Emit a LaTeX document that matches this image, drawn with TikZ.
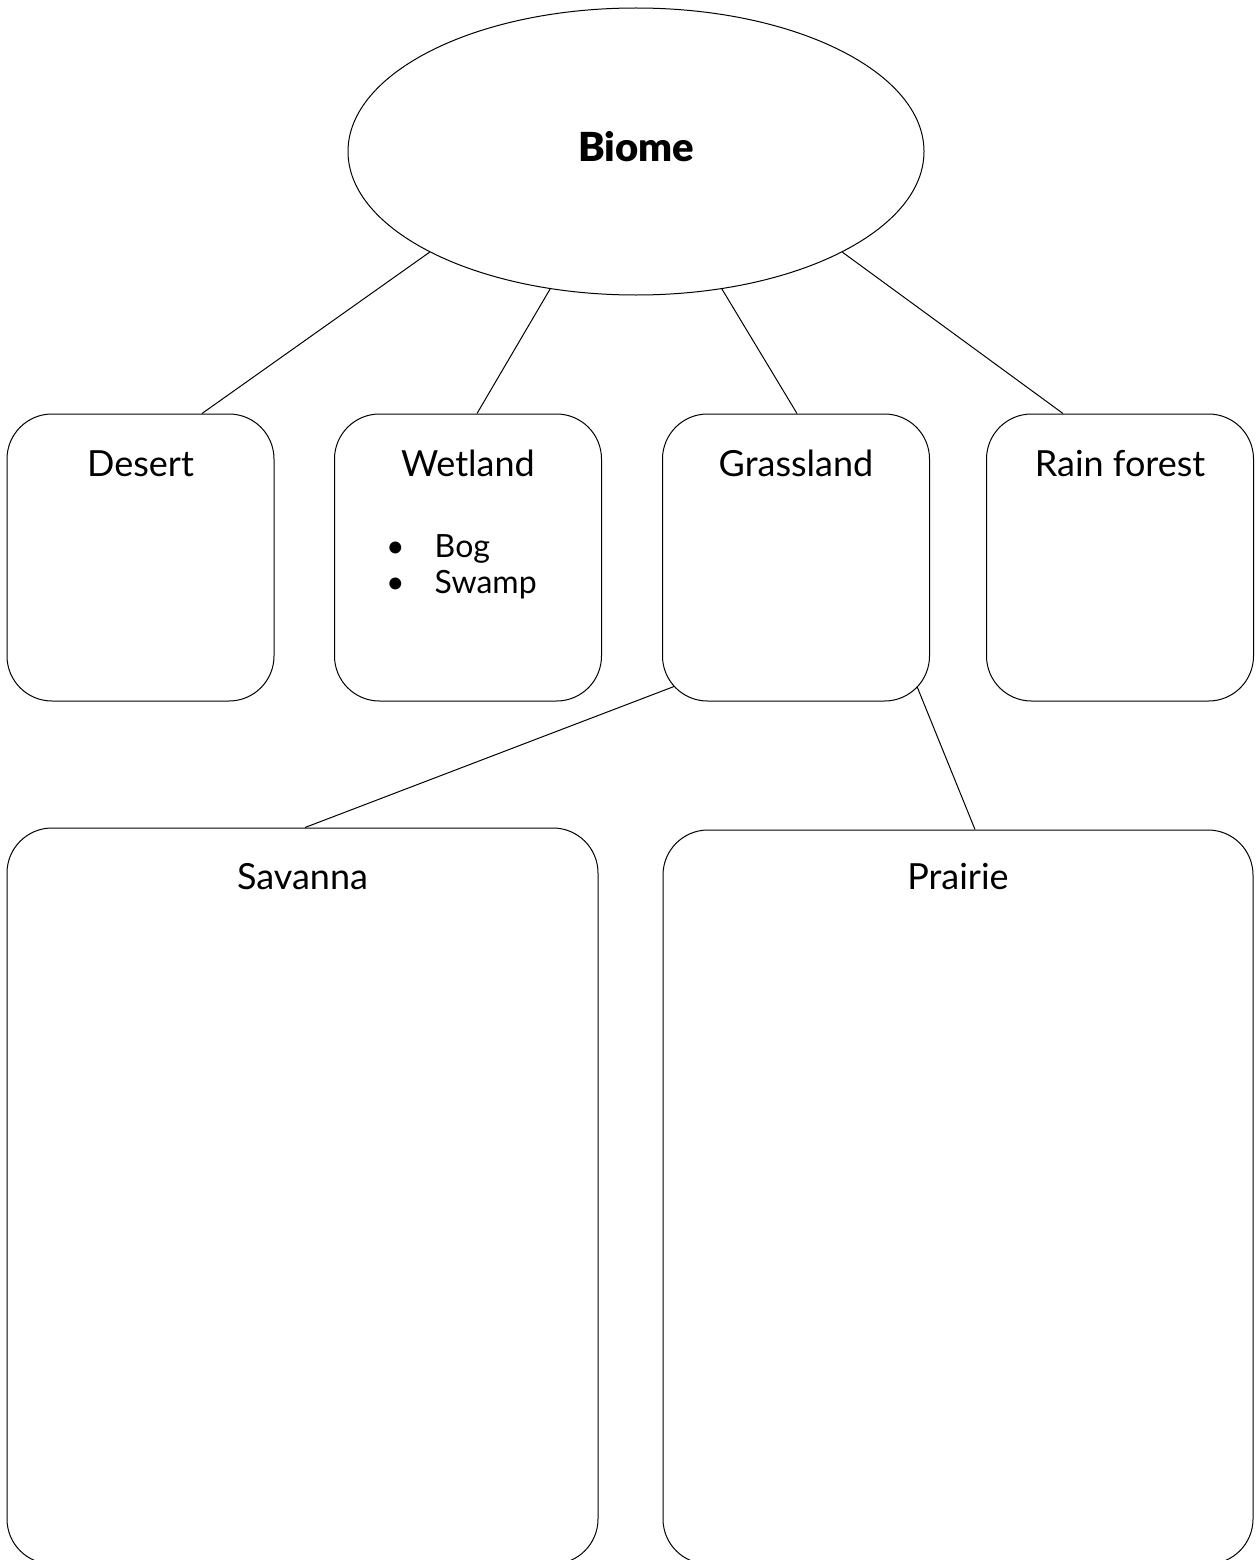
\documentclass[tikz,border=0pt]{standalone}
\usepackage{fontspec}
\setmainfont{Lato}
\newfontfamily\heavyfont{Lato Black}
\usetikzlibrary{shapes.geometric,calc}

\begin{document}
\begin{tikzpicture}[x=1pt,y=1pt,yscale=-1,xscale=1,
  smallbox/.style={draw,line width=1pt,rounded corners=45pt,minimum width=267pt,minimum height=287pt,inner sep=0pt},
  bigbox/.style={draw,line width=1pt,rounded corners=45pt,minimum width=591pt,minimum height=736pt,inner sep=0pt},
  boxtitle/.style={anchor=base,inner sep=0.75pt,font=\fontsize{36}{42}\selectfont},
  link/.style={line width=1pt}]
\useasboundingbox (0,0) rectangle (1259,1560);

%Shape: Ellipse
\node [draw,ellipse,line width=1pt,minimum width=576pt,minimum height=287pt,inner sep=0pt] (biome) at (636,151.5) {};

%Shape: Rounded Rect
\node [smallbox] (desert) at (140.5,557.5) {};
%Shape: Rounded Rect
\node [smallbox] (wetland) at (468,557.5) {};
%Shape: Rounded Rect
\node [smallbox] (grassland) at (796,557.5) {};
%Shape: Rounded Rect
\node [smallbox] (rainforest) at (1120,557.5) {};
%Shape: Rounded Rect
\node [bigbox] (savanna) at (302.5,1196) {};
%Shape: Rounded Rect
\node [bigbox,minimum width=590pt,minimum height=734pt] (prairie) at (958,1197) {};

%Straight Lines
\draw [link] (biome.-154) -- ($(desert.north)+(61.5,0)$) ;
%Straight Lines
\draw [link] (biome.-122.8) -- ($(wetland.north)+(9,0)$) ;
%Straight Lines
\draw [link] (biome.-58.8) -- ($(grassland.north)+(1,0)$) ;
%Straight Lines
\draw [link] (biome.-26) -- ($(rainforest.north)+(-57,0)$) ;
%Straight Lines
\draw [link] ($(grassland.south west)+(12,-15)$) -- ($(savanna.north)+(2.5,0)$) ;
%Straight Lines
\draw [link] ($(grassland.south east)+(-13,-15)$) -- ($(prairie.north)+(17,0)$) ;

% Text Node
\node [inner sep=0.75pt,font=\fontsize{40}{44}\selectfont\heavyfont] (biomelbl) at ($(biome.center)+(0,-5)$) {Biome};
% Text Node
\node [boxtitle] (desertlbl) at ($(desert.north)+(0,63)$) {Desert};
% Text Node
\node [boxtitle] (wetlandlbl) at ($(wetland.north)+(0,63)$) {Wetland};
% Text Node
\node [boxtitle] (grasslandlbl) at ($(grassland.north)+(0,63)$) {Grassland};
% Text Node
\node [boxtitle] (rainforestlbl) at ($(rainforest.north)+(0,63)$) {Rain forest};
% Text Node
\node [boxtitle] (savannalbl) at ($(savanna.north)+(0,62)$) {Savanna};
% Text Node
\node [boxtitle] (prairielbl) at ($(prairie.north)+(0,60)$) {Prairie};
% Text Node
\node [anchor=west,inner sep=0pt,font=\fontsize{32}{36}\selectfont] (wetlandlist) at (386,568) {\begin{tabular}{@{}l@{\hspace{30pt}}l@{}}\textbullet & Bog\\ \textbullet & Swamp\end{tabular}};

\end{tikzpicture}
\end{document}
